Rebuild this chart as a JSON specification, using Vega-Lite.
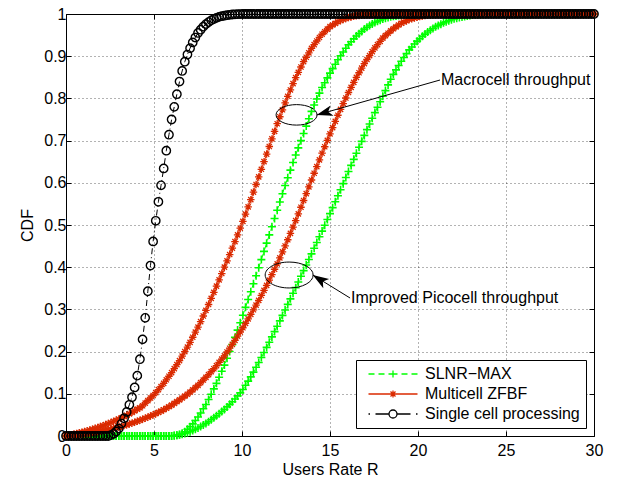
{
"$schema": "https://vega.github.io/schema/vega-lite/v6.json",
"width": 528, "height": 422,
"autosize": {"type": "none"},
"padding": {"left": 66, "top": 14, "right": 27, "bottom": 41},
"background": "white",
"config": {
  "font": "Liberation Sans",
  "view": {"stroke": "black", "strokeWidth": 1},
  "axis": {"labelFont": "Liberation Sans", "labelFontSize": 16, "labelColor": "black", "titleFont": "Liberation Sans", "titleFontSize": 16, "titleFontWeight": "normal", "titleColor": "black", "tickColor": "black", "tickSize": -5, "tickWidth": 1, "domain": false, "gridColor": "#000", "gridOpacity": 0.6, "gridDash": [1,3], "gridWidth": 1, "labelPadding": 5, "labelFlush": false, "labelOverlap": false, "labelBound": false},
  "legend": {"orient": "bottom-right", "offset": 8, "padding": 6, "rowPadding": 4, "strokeColor": "black", "fillColor": "white", "labelFont": "Liberation Sans", "labelFontSize": 16, "labelColor": "black", "symbolSize": 100, "labelOffset": 47}
},
"datasets": {
"cdf": [
{"x":0,"g1":0,"g2":0,"r1":0,"r2":0,"b":0},
{"x":0.15,"g1":0,"g2":0,"r1":0.0015,"r2":0.0006,"b":0},
{"x":0.3,"g1":0,"g2":0,"r1":0.003,"r2":0.0012,"b":0},
{"x":0.45,"g1":0,"g2":0,"r1":0.0045,"r2":0.0018,"b":0},
{"x":0.6,"g1":0,"g2":0,"r1":0.006,"r2":0.0026,"b":0},
{"x":0.75,"g1":0,"g2":0,"r1":0.0075,"r2":0.0035,"b":0},
{"x":0.9,"g1":0,"g2":0,"r1":0.009,"r2":0.0044,"b":0},
{"x":1.05,"g1":0,"g2":0,"r1":0.0106,"r2":0.0053,"b":0},
{"x":1.2,"g1":0,"g2":0,"r1":0.0124,"r2":0.0062,"b":0},
{"x":1.35,"g1":0,"g2":0,"r1":0.0142,"r2":0.0071,"b":0},
{"x":1.5,"g1":0,"g2":0,"r1":0.016,"r2":0.008,"b":0},
{"x":1.65,"g1":0,"g2":0,"r1":0.0181,"r2":0.0092,"b":0},
{"x":1.8,"g1":0,"g2":0,"r1":0.0202,"r2":0.0104,"b":0},
{"x":1.95,"g1":0,"g2":0,"r1":0.0223,"r2":0.0116,"b":0},
{"x":2.1,"g1":0,"g2":0,"r1":0.0246,"r2":0.0128,"b":0},
{"x":2.25,"g1":0,"g2":0,"r1":0.027,"r2":0.014,"b":0},
{"x":2.4,"g1":0,"g2":0,"r1":0.0294,"r2":0.0152,"b":0},
{"x":2.55,"g1":0,"g2":0,"r1":0.0319,"r2":0.0165,"b":0.002},
{"x":2.7,"g1":0,"g2":0,"r1":0.0346,"r2":0.018,"b":0.005},
{"x":2.85,"g1":0,"g2":0,"r1":0.0373,"r2":0.0195,"b":0.0108},
{"x":3,"g1":0,"g2":0,"r1":0.04,"r2":0.021,"b":0.018},
{"x":3.15,"g1":0,"g2":0,"r1":0.043,"r2":0.0228,"b":0.0294},
{"x":3.3,"g1":0,"g2":0,"r1":0.046,"r2":0.0246,"b":0.042},
{"x":3.45,"g1":0,"g2":0,"r1":0.049,"r2":0.0264,"b":0.057},
{"x":3.6,"g1":0,"g2":0,"r1":0.0524,"r2":0.0284,"b":0.074},
{"x":3.75,"g1":0,"g2":0,"r1":0.056,"r2":0.0305,"b":0.092},
{"x":3.9,"g1":0,"g2":0,"r1":0.0596,"r2":0.0326,"b":0.115},
{"x":4.05,"g1":0,"g2":0,"r1":0.0636,"r2":0.0348,"b":0.143},
{"x":4.2,"g1":0,"g2":0,"r1":0.0668,"r2":0.0372,"b":0.182},
{"x":4.35,"g1":0,"g2":0,"r1":0.0716,"r2":0.0396,"b":0.229},
{"x":4.5,"g1":0,"g2":0,"r1":0.078,"r2":0.042,"b":0.28},
{"x":4.65,"g1":0,"g2":0,"r1":0.084,"r2":0.0447,"b":0.343},
{"x":4.8,"g1":0,"g2":0,"r1":0.09,"r2":0.0474,"b":0.404},
{"x":4.95,"g1":0,"g2":0,"r1":0.096,"r2":0.0501,"b":0.461},
{"x":5.1,"g1":0,"g2":0,"r1":0.1028,"r2":0.053,"b":0.51},
{"x":5.25,"g1":0,"g2":0,"r1":0.11,"r2":0.056,"b":0.555},
{"x":5.4,"g1":0,"g2":0,"r1":0.1172,"r2":0.059,"b":0.594},
{"x":5.55,"g1":0,"g2":0,"r1":0.1248,"r2":0.0622,"b":0.634},
{"x":5.7,"g1":0,"g2":0,"r1":0.1332,"r2":0.0658,"b":0.676},
{"x":5.85,"g1":0,"g2":0,"r1":0.1416,"r2":0.0694,"b":0.714},
{"x":6,"g1":0,"g2":0,"r1":0.15,"r2":0.073,"b":0.75},
{"x":6.15,"g1":0.0006,"g2":0.0009,"r1":0.1596,"r2":0.0772,"b":0.78},
{"x":6.3,"g1":0.0016,"g2":0.0018,"r1":0.1692,"r2":0.0814,"b":0.81},
{"x":6.45,"g1":0.0034,"g2":0.0027,"r1":0.1788,"r2":0.0856,"b":0.84},
{"x":6.6,"g1":0.0064,"g2":0.0042,"r1":0.1892,"r2":0.09,"b":0.865},
{"x":6.75,"g1":0.01,"g2":0.006,"r1":0.2,"r2":0.0945,"b":0.887},
{"x":6.9,"g1":0.016,"g2":0.0078,"r1":0.2108,"r2":0.099,"b":0.904},
{"x":7.05,"g1":0.0222,"g2":0.01,"r1":0.222,"r2":0.1038,"b":0.919},
{"x":7.2,"g1":0.0288,"g2":0.013,"r1":0.234,"r2":0.1092,"b":0.9326},
{"x":7.35,"g1":0.0366,"g2":0.016,"r1":0.246,"r2":0.1146,"b":0.9442},
{"x":7.5,"g1":0.045,"g2":0.019,"r1":0.258,"r2":0.12,"b":0.955},
{"x":7.65,"g1":0.0546,"g2":0.0226,"r1":0.2712,"r2":0.1263,"b":0.9628},
{"x":7.8,"g1":0.0644,"g2":0.0262,"r1":0.2844,"r2":0.1326,"b":0.97},
{"x":7.95,"g1":0.0746,"g2":0.0298,"r1":0.2976,"r2":0.1389,"b":0.976},
{"x":8.1,"g1":0.0864,"g2":0.034,"r1":0.3116,"r2":0.1456,"b":0.9808},
{"x":8.25,"g1":0.099,"g2":0.0385,"r1":0.326,"r2":0.1525,"b":0.985},
{"x":8.4,"g1":0.1116,"g2":0.043,"r1":0.3404,"r2":0.1594,"b":0.988},
{"x":8.55,"g1":0.1248,"g2":0.0477,"r1":0.355,"r2":0.1666,"b":0.9908},
{"x":8.7,"g1":0.1392,"g2":0.0528,"r1":0.37,"r2":0.1744,"b":0.9932},
{"x":8.85,"g1":0.1536,"g2":0.0579,"r1":0.385,"r2":0.1822,"b":0.9948},
{"x":9,"g1":0.168,"g2":0.063,"r1":0.4,"r2":0.19,"b":0.996},
{"x":9.15,"g1":0.1842,"g2":0.069,"r1":0.415,"r2":0.199,"b":0.9972},
{"x":9.3,"g1":0.2004,"g2":0.075,"r1":0.43,"r2":0.208,"b":0.9982},
{"x":9.45,"g1":0.2166,"g2":0.081,"r1":0.445,"r2":0.217,"b":0.9988},
{"x":9.6,"g1":0.2336,"g2":0.0878,"r1":0.4606,"r2":0.2266,"b":0.9992},
{"x":9.75,"g1":0.251,"g2":0.095,"r1":0.4765,"r2":0.2365,"b":0.9995},
{"x":9.9,"g1":0.2684,"g2":0.1022,"r1":0.4924,"r2":0.2464,"b":0.9998},
{"x":10.05,"g1":0.2862,"g2":0.1103,"r1":0.5087,"r2":0.2565,"b":1},
{"x":10.2,"g1":0.3048,"g2":0.1202,"r1":0.5258,"r2":0.267,"b":1},
{"x":10.35,"g1":0.3234,"g2":0.1301,"r1":0.5429,"r2":0.2775,"b":1},
{"x":10.5,"g1":0.342,"g2":0.14,"r1":0.56,"r2":0.288,"b":1},
{"x":10.65,"g1":0.3609,"g2":0.1514,"r1":0.578,"r2":0.2991,"b":1},
{"x":10.8,"g1":0.3798,"g2":0.1628,"r1":0.596,"r2":0.3102,"b":1},
{"x":10.95,"g1":0.3987,"g2":0.1742,"r1":0.614,"r2":0.3213,"b":1},
{"x":11.1,"g1":0.418,"g2":0.186,"r1":0.632,"r2":0.333,"b":1},
{"x":11.25,"g1":0.4375,"g2":0.198,"r1":0.65,"r2":0.345,"b":1},
{"x":11.4,"g1":0.457,"g2":0.21,"r1":0.668,"r2":0.357,"b":1},
{"x":11.55,"g1":0.4765,"g2":0.2222,"r1":0.686,"r2":0.3693,"b":1},
{"x":11.7,"g1":0.496,"g2":0.2348,"r1":0.704,"r2":0.3822,"b":1},
{"x":11.85,"g1":0.5155,"g2":0.2474,"r1":0.722,"r2":0.3951,"b":1},
{"x":12,"g1":0.535,"g2":0.26,"r1":0.74,"r2":0.408,"b":1},
{"x":12.15,"g1":0.5545,"g2":0.2729,"r1":0.7565,"r2":0.4221,"b":1},
{"x":12.3,"g1":0.574,"g2":0.2858,"r1":0.773,"r2":0.4362,"b":1},
{"x":12.45,"g1":0.5935,"g2":0.2987,"r1":0.7895,"r2":0.4503,"b":1},
{"x":12.6,"g1":0.612,"g2":0.3118,"r1":0.805,"r2":0.465,"b":1},
{"x":12.75,"g1":0.63,"g2":0.325,"r1":0.82,"r2":0.48,"b":1},
{"x":12.9,"g1":0.648,"g2":0.3382,"r1":0.835,"r2":0.495,"b":1},
{"x":13.05,"g1":0.6657,"g2":0.3515,"r1":0.8492,"r2":0.5103,"b":1},
{"x":13.2,"g1":0.6828,"g2":0.365,"r1":0.8618,"r2":0.5262,"b":1},
{"x":13.35,"g1":0.6999,"g2":0.3785,"r1":0.8744,"r2":0.5421,"b":1},
{"x":13.5,"g1":0.717,"g2":0.392,"r1":0.887,"r2":0.558,"b":1},
{"x":13.65,"g1":0.7344,"g2":0.4052,"r1":0.8975,"r2":0.5742,"b":1},
{"x":13.8,"g1":0.7518,"g2":0.4184,"r1":0.908,"r2":0.5904,"b":1},
{"x":13.95,"g1":0.7692,"g2":0.4316,"r1":0.9185,"r2":0.6066,"b":1},
{"x":14.1,"g1":0.7844,"g2":0.445,"r1":0.9276,"r2":0.6226,"b":1},
{"x":14.25,"g1":0.7985,"g2":0.4585,"r1":0.936,"r2":0.6385,"b":1},
{"x":14.4,"g1":0.8126,"g2":0.472,"r1":0.9444,"r2":0.6544,"b":1},
{"x":14.55,"g1":0.8258,"g2":0.4856,"r1":0.952,"r2":0.6701,"b":1},
{"x":14.7,"g1":0.8372,"g2":0.4994,"r1":0.958,"r2":0.6854,"b":1},
{"x":14.85,"g1":0.8486,"g2":0.5132,"r1":0.964,"r2":0.7007,"b":1},
{"x":15,"g1":0.86,"g2":0.527,"r1":0.97,"r2":0.716,"b":1},
{"x":15.15,"g1":0.8705,"g2":0.5411,"r1":0.9739,"r2":0.7307,"b":1},
{"x":15.3,"g1":0.881,"g2":0.5552,"r1":0.9778,"r2":0.7454,"b":1},
{"x":15.45,"g1":0.8915,"g2":0.5693,"r1":0.9817,"r2":0.7601,"b":1},
{"x":15.6,"g1":0.901,"g2":0.5836,"r1":0.9846,"r2":0.774,"b":1},
{"x":15.75,"g1":0.91,"g2":0.598,"r1":0.987,"r2":0.7875,"b":1},
{"x":15.9,"g1":0.919,"g2":0.6124,"r1":0.9894,"r2":0.801,"b":1},
{"x":16.05,"g1":0.9273,"g2":0.6268,"r1":0.9915,"r2":0.814,"b":1},
{"x":16.2,"g1":0.9342,"g2":0.6412,"r1":0.993,"r2":0.826,"b":1},
{"x":16.35,"g1":0.9411,"g2":0.6556,"r1":0.9945,"r2":0.838,"b":1},
{"x":16.5,"g1":0.948,"g2":0.67,"r1":0.996,"r2":0.85,"b":1},
{"x":16.65,"g1":0.9534,"g2":0.6841,"r1":0.9966,"r2":0.8608,"b":1},
{"x":16.8,"g1":0.9588,"g2":0.6982,"r1":0.9972,"r2":0.8716,"b":1},
{"x":16.95,"g1":0.9642,"g2":0.7123,"r1":0.9978,"r2":0.8824,"b":1},
{"x":17.1,"g1":0.9686,"g2":0.726,"r1":0.9983,"r2":0.8922,"b":1},
{"x":17.25,"g1":0.9725,"g2":0.7395,"r1":0.9988,"r2":0.9015,"b":1},
{"x":17.4,"g1":0.9764,"g2":0.753,"r1":0.9992,"r2":0.9108,"b":1},
{"x":17.55,"g1":0.9799,"g2":0.7663,"r1":0.9996,"r2":0.9196,"b":1},
{"x":17.7,"g1":0.9826,"g2":0.7792,"r1":0.9997,"r2":0.9274,"b":1},
{"x":17.85,"g1":0.9853,"g2":0.7921,"r1":0.9999,"r2":0.9352,"b":1},
{"x":18,"g1":0.988,"g2":0.805,"r1":1,"r2":0.943,"b":1},
{"x":18.15,"g1":0.9898,"g2":0.8185,"r1":1,"r2":0.9487,"b":1},
{"x":18.3,"g1":0.9916,"g2":0.832,"r1":1,"r2":0.9544,"b":1},
{"x":18.45,"g1":0.9934,"g2":0.8455,"r1":1,"r2":0.9601,"b":1},
{"x":18.6,"g1":0.9946,"g2":0.857,"r1":1,"r2":0.965,"b":1},
{"x":18.75,"g1":0.9955,"g2":0.8675,"r1":1,"r2":0.9695,"b":1},
{"x":18.9,"g1":0.9964,"g2":0.878,"r1":1,"r2":0.974,"b":1},
{"x":19.05,"g1":0.9972,"g2":0.888,"r1":1,"r2":0.978,"b":1},
{"x":19.2,"g1":0.9978,"g2":0.897,"r1":1,"r2":0.981,"b":1},
{"x":19.35,"g1":0.9984,"g2":0.906,"r1":1,"r2":0.984,"b":1},
{"x":19.5,"g1":0.999,"g2":0.915,"r1":1,"r2":0.987,"b":1},
{"x":19.65,"g1":0.9993,"g2":0.9219,"r1":1,"r2":0.9888,"b":1},
{"x":19.8,"g1":0.9996,"g2":0.9288,"r1":1,"r2":0.9906,"b":1},
{"x":19.95,"g1":0.9999,"g2":0.9357,"r1":1,"r2":0.9924,"b":1},
{"x":20.1,"g1":1,"g2":0.9416,"r1":1,"r2":0.9938,"b":1},
{"x":20.25,"g1":1,"g2":0.947,"r1":1,"r2":0.995,"b":1},
{"x":20.4,"g1":1,"g2":0.9524,"r1":1,"r2":0.9962,"b":1},
{"x":20.55,"g1":1,"g2":0.9574,"r1":1,"r2":0.9972,"b":1},
{"x":20.7,"g1":1,"g2":0.9616,"r1":1,"r2":0.9978,"b":1},
{"x":20.85,"g1":1,"g2":0.9658,"r1":1,"r2":0.9984,"b":1},
{"x":21,"g1":1,"g2":0.97,"r1":1,"r2":0.999,"b":1},
{"x":21.15,"g1":1,"g2":0.973,"r1":1,"r2":0.9992,"b":1},
{"x":21.3,"g1":1,"g2":0.976,"r1":1,"r2":0.9994,"b":1},
{"x":21.45,"g1":1,"g2":0.979,"r1":1,"r2":0.9996,"b":1},
{"x":21.6,"g1":1,"g2":0.9816,"r1":1,"r2":0.9998,"b":1},
{"x":21.75,"g1":1,"g2":0.984,"r1":1,"r2":0.9999,"b":1},
{"x":21.9,"g1":1,"g2":0.9864,"r1":1,"r2":0.9999,"b":1},
{"x":22.05,"g1":1,"g2":0.9885,"r1":1,"r2":1,"b":1},
{"x":22.2,"g1":1,"g2":0.99,"r1":1,"r2":1,"b":1},
{"x":22.35,"g1":1,"g2":0.9915,"r1":1,"r2":1,"b":1},
{"x":22.5,"g1":1,"g2":0.993,"r1":1,"r2":1,"b":1},
{"x":22.65,"g1":1,"g2":0.9942,"r1":1,"r2":1,"b":1},
{"x":22.8,"g1":1,"g2":0.9954,"r1":1,"r2":1,"b":1},
{"x":22.95,"g1":1,"g2":0.9966,"r1":1,"r2":1,"b":1},
{"x":23.1,"g1":1,"g2":0.9974,"r1":1,"r2":1,"b":1},
{"x":23.25,"g1":1,"g2":0.998,"r1":1,"r2":1,"b":1},
{"x":23.4,"g1":1,"g2":0.9986,"r1":1,"r2":1,"b":1},
{"x":23.55,"g1":1,"g2":0.9991,"r1":1,"r2":1,"b":1},
{"x":23.7,"g1":1,"g2":0.9994,"r1":1,"r2":1,"b":1},
{"x":23.85,"g1":1,"g2":0.9997,"r1":1,"r2":1,"b":1},
{"x":24,"g1":1,"g2":1,"r1":1,"r2":1,"b":1},
{"x":24.15,"g1":1,"g2":1,"r1":1,"r2":1,"b":1},
{"x":24.3,"g1":1,"g2":1,"r1":1,"r2":1,"b":1},
{"x":24.45,"g1":1,"g2":1,"r1":1,"r2":1,"b":1},
{"x":24.6,"g1":1,"g2":1,"r1":1,"r2":1,"b":1},
{"x":24.75,"g1":1,"g2":1,"r1":1,"r2":1,"b":1},
{"x":24.9,"g1":1,"g2":1,"r1":1,"r2":1,"b":1},
{"x":25.05,"g1":1,"g2":1,"r1":1,"r2":1,"b":1},
{"x":25.2,"g1":1,"g2":1,"r1":1,"r2":1,"b":1},
{"x":25.35,"g1":1,"g2":1,"r1":1,"r2":1,"b":1},
{"x":25.5,"g1":1,"g2":1,"r1":1,"r2":1,"b":1},
{"x":25.65,"g1":1,"g2":1,"r1":1,"r2":1,"b":1},
{"x":25.8,"g1":1,"g2":1,"r1":1,"r2":1,"b":1},
{"x":25.95,"g1":1,"g2":1,"r1":1,"r2":1,"b":1},
{"x":26.1,"g1":1,"g2":1,"r1":1,"r2":1,"b":1},
{"x":26.25,"g1":1,"g2":1,"r1":1,"r2":1,"b":1},
{"x":26.4,"g1":1,"g2":1,"r1":1,"r2":1,"b":1},
{"x":26.55,"g1":1,"g2":1,"r1":1,"r2":1,"b":1},
{"x":26.7,"g1":1,"g2":1,"r1":1,"r2":1,"b":1},
{"x":26.85,"g1":1,"g2":1,"r1":1,"r2":1,"b":1},
{"x":27,"g1":1,"g2":1,"r1":1,"r2":1,"b":1},
{"x":27.15,"g1":1,"g2":1,"r1":1,"r2":1,"b":1},
{"x":27.3,"g1":1,"g2":1,"r1":1,"r2":1,"b":1},
{"x":27.45,"g1":1,"g2":1,"r1":1,"r2":1,"b":1},
{"x":27.6,"g1":1,"g2":1,"r1":1,"r2":1,"b":1},
{"x":27.75,"g1":1,"g2":1,"r1":1,"r2":1,"b":1},
{"x":27.9,"g1":1,"g2":1,"r1":1,"r2":1,"b":1},
{"x":28.05,"g1":1,"g2":1,"r1":1,"r2":1,"b":1},
{"x":28.2,"g1":1,"g2":1,"r1":1,"r2":1,"b":1},
{"x":28.35,"g1":1,"g2":1,"r1":1,"r2":1,"b":1},
{"x":28.5,"g1":1,"g2":1,"r1":1,"r2":1,"b":1},
{"x":28.65,"g1":1,"g2":1,"r1":1,"r2":1,"b":1},
{"x":28.8,"g1":1,"g2":1,"r1":1,"r2":1,"b":1},
{"x":28.95,"g1":1,"g2":1,"r1":1,"r2":1,"b":1},
{"x":29.1,"g1":1,"g2":1,"r1":1,"r2":1,"b":1},
{"x":29.25,"g1":1,"g2":1,"r1":1,"r2":1,"b":1},
{"x":29.4,"g1":1,"g2":1,"r1":1,"r2":1,"b":1},
{"x":29.55,"g1":1,"g2":1,"r1":1,"r2":1,"b":1},
{"x":29.7,"g1":1,"g2":1,"r1":1,"r2":1,"b":1},
{"x":29.85,"g1":1,"g2":1,"r1":1,"r2":1,"b":1},
{"x":30,"g1":1,"g2":1,"r1":1,"r2":1,"b":1}
],
"ann": [
{"id":1,"name":"Macrocell throughput","ex":13.1,"ey":0.761,"tx":21.25,"ty":0.8436,"hx":14.24,"hy":0.7607},
{"id":2,"name":"Improved Picocell throughput","ex":12.68,"ey":0.3815,"tx":16.14,"ty":0.327,"hx":14.02,"hy":0.3815}
]
},
"layer": [
{
  "data": {"name": "cdf"},
  "transform": [{"fold": ["g1","g2"], "as": ["curve","cdf"]}],
  "mark": {"type": "line", "strokeWidth": 1, "strokeDash": [6,4], "point": {"shape": "M-1,0H1M0,-1V1", "filled": false, "size": 64, "strokeWidth": 1.6}},
  "encoding": {
    "x": {"field": "x", "type": "quantitative", "scale": {"domain": [0,30], "nice": false}, "axis": {"title": "Users Rate R", "values": [0,5,10,15,20,25,30], "grid": true, "labelPadding": 11, "titlePadding": 3}},
    "y": {"field": "cdf", "type": "quantitative", "scale": {"domain": [0,1], "nice": false}, "axis": {"title": "CDF", "values": [0,0.1,0.2,0.3,0.4,0.5,0.6,0.7,0.8,0.9,1], "format": ".1~f", "grid": true, "labelPadding": 5, "titlePadding": 8}},
    "detail": {"field": "curve"},
    "color": {"datum": "SLNR−MAX", "type": "nominal",
      "scale": {"domain": ["SLNR−MAX","Multicell ZFBF","Single cell processing"], "range": ["#00ff00","#da2a00","#000000"]},
      "legend": {"title": null,
        "encode": {"symbols": {"update": {
          "shape": {"signal": "datum.value == 'SLNR−MAX' ? 'M-0.3,0H0.9M1.7,0H2.9M3.7,0H5.5M6.3,0H7.5M8.3,0H9.5M4.6,-0.7V0.7' : datum.value == 'Multicell ZFBF' ? 'M-0.3,0H9.5M4.6,-0.7V0.7M4.1,-0.5L5.1,0.5M4.1,0.5L5.1,-0.5' : 'M-0.3,0H0M1.1,0H3.8M5.4,0H8.1M9.2,0H9.5M3.8,0A0.8,0.8 0 1,0 5.4,0A0.8,0.8 0 1,0 3.8,0'"},
          "stroke": {"scale": "color", "field": "value"},
          "fill": {"value": "transparent"},
          "strokeWidth": {"value": 1.3},
          "strokeDash": {"value": []},
          "opacity": {"value": 1}
        }}}}
    }
  }
},
{
  "data": {"name": "cdf"},
  "transform": [{"fold": ["r1","r2"], "as": ["curve","cdf"]}],
  "mark": {"type": "line", "strokeWidth": 1, "point": {"shape": "M-1,0H1M0,-1V1M-0.7,-0.7L0.7,0.7M-0.7,0.7L0.7,-0.7", "filled": false, "size": 56, "strokeWidth": 1.3}},
  "encoding": {
    "x": {"field": "x", "type": "quantitative", "scale": {"domain": [0,30], "nice": false}, "axis": {"orient": "top", "labels": false, "grid": false, "title": null, "values": [0,5,10,15,20,25,30]}},
    "y": {"field": "cdf", "type": "quantitative", "scale": {"domain": [0,1], "nice": false}, "axis": {"orient": "right", "labels": false, "grid": false, "title": null, "values": [0,0.1,0.2,0.3,0.4,0.5,0.6,0.7,0.8,0.9,1]}},
    "detail": {"field": "curve"},
    "color": {"datum": "Multicell ZFBF", "type": "nominal"}
  }
},
{
  "data": {"name": "cdf"},
  "mark": {"type": "line", "strokeWidth": 1, "strokeDash": [6,3,1,3], "point": {"shape": "circle", "filled": false, "size": 70, "strokeWidth": 1.4}},
  "encoding": {
    "x": {"field": "x", "type": "quantitative", "scale": {"domain": [0,30], "nice": false}, "axis": null},
    "y": {"field": "b", "type": "quantitative", "scale": {"domain": [0,1], "nice": false}, "axis": null},
    "color": {"datum": "Single cell processing", "type": "nominal"}
  }
},
{
  "data": {"name": "ann"},
  "transform": [{"filter": "datum.id == 1"}],
  "mark": {"type": "point", "shape": "M-1,0A1,0.5 0 1,0 1,0A1,0.5 0 1,0 -1,0", "filled": false, "size": 1681, "stroke": "black", "strokeWidth": 1, "opacity": 1},
  "encoding": {
    "x": {"field": "ex", "type": "quantitative", "axis": null},
    "y": {"field": "ey", "type": "quantitative", "axis": null}
  }
},
{
  "data": {"name": "ann"},
  "transform": [{"filter": "datum.id == 2"}],
  "mark": {"type": "point", "shape": "M-1,0A1,0.54 0 1,0 1,0A1,0.54 0 1,0 -1,0", "filled": false, "size": 2304, "stroke": "black", "strokeWidth": 1, "opacity": 1},
  "encoding": {
    "x": {"field": "ex", "type": "quantitative", "axis": null},
    "y": {"field": "ey", "type": "quantitative", "axis": null}
  }
},
{
  "data": {"name": "ann"},
  "mark": {"type": "rule", "color": "black", "strokeWidth": 1},
  "encoding": {
    "x": {"field": "tx", "type": "quantitative", "axis": null},
    "y": {"field": "ty", "type": "quantitative", "axis": null},
    "x2": {"field": "hx"},
    "y2": {"field": "hy"}
  }
},
{
  "data": {"name": "ann"},
  "transform": [{"filter": "datum.id == 1"}],
  "mark": {"type": "point", "shape": "M0,0L0.34,1L0,0.75L-0.34,1Z", "filled": true, "size": 1024, "color": "black", "opacity": 1, "angle": 254.2},
  "encoding": {
    "x": {"field": "hx", "type": "quantitative", "axis": null},
    "y": {"field": "hy", "type": "quantitative", "axis": null}
  }
},
{
  "data": {"name": "ann"},
  "transform": [{"filter": "datum.id == 2"}],
  "mark": {"type": "point", "shape": "M0,0L0.34,1L0,0.75L-0.34,1Z", "filled": true, "size": 1024, "color": "black", "opacity": 1, "angle": 302.7},
  "encoding": {
    "x": {"field": "hx", "type": "quantitative", "axis": null},
    "y": {"field": "hy", "type": "quantitative", "axis": null}
  }
},
{
  "data": {"name": "ann"},
  "mark": {"type": "text", "align": "left", "baseline": "middle", "dx": 1, "fontSize": 16, "font": "Liberation Sans", "color": "black"},
  "encoding": {
    "x": {"field": "tx", "type": "quantitative", "axis": null},
    "y": {"field": "ty", "type": "quantitative", "axis": null},
    "text": {"field": "name"}
  }
}
],
"resolve": {"axis": {"x": "independent", "y": "independent"}}
}
